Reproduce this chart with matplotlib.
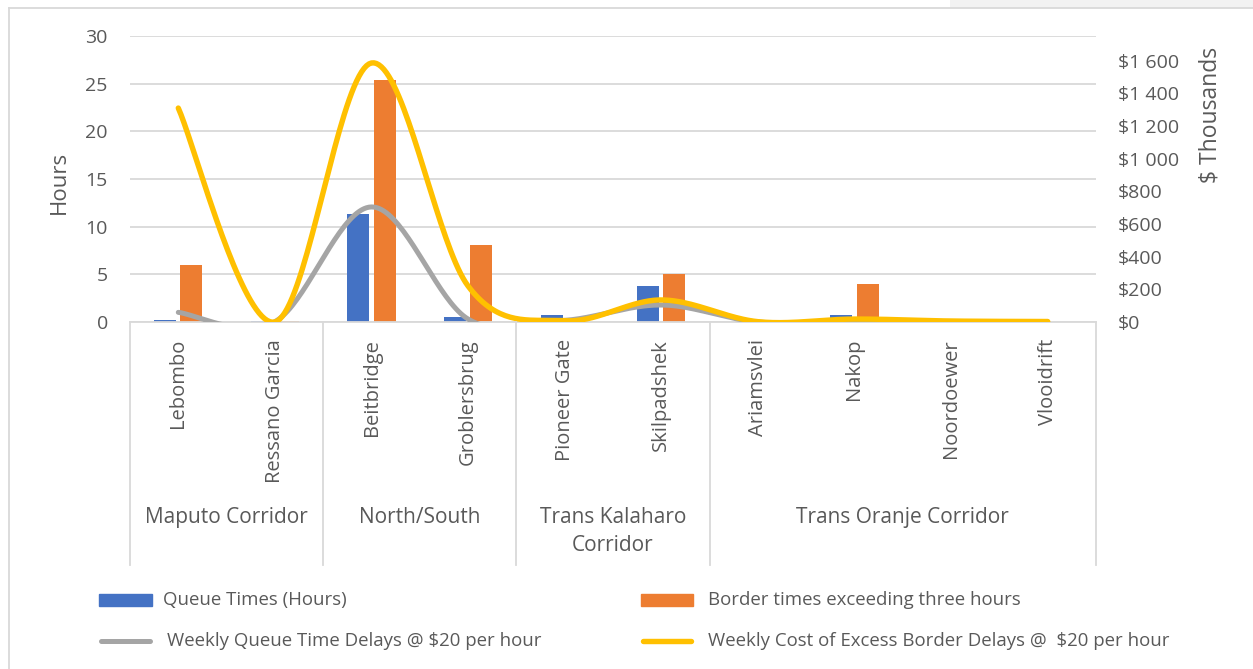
import numpy as np
import matplotlib
matplotlib.use("Agg")
import matplotlib.pyplot as plt
from matplotlib.patches import Rectangle
from matplotlib.lines import Line2D
import matplotlib.transforms as mtransforms

plt.rcParams['font.family'] = ['Open Sans', 'DejaVu Sans']

# border posts, grouped by corridor
posts = ["Lebombo", "Ressano Garcia", "Beitbridge", "Groblersbrug", "Pioneer Gate",
         "Skilpadshek", "Ariamsvlei", "Nakop", "Noordoewer", "Vlooidrift"]
corridors = ["Maputo Corridor", "North/South", "Trans Kalaharo\nCorridor", "Trans Oranje Corridor"]
corridor_sizes = [2, 2, 2, 4]

# hours (left axis)
queue_hours = [0.25, 0.15, 11.3, 0.55, 0.7, 3.8, 0.0, 0.7, 0.0, 0.0]
excess_hours = [6.0, 0.15, 25.4, 8.1, 0.0, 5.0, 0.0, 4.0, 0.0, 0.0]

# weekly cost, $ thousands (right axis)
queue_cost = [59, 2, 704, 18, 10, 104, 0, 6, 0, 0]
excess_cost = [1309, 0, 1585, 220, 8, 135, 2, 18, 6, 3]

BLUE = "#4472C4"
ORANGE = "#ED7D31"
GRAY = "#A5A5A5"
YELLOW = "#FFC000"
TXT = "#595959"
GRID = "#D9D9D9"

W, H = 1253, 669


def fx(px):
    return px / W


def fy(py):
    return 1 - py / H


def smooth(xs, ys, n=40):
    # cubic bezier through the points, spreadsheet-style smoothing
    pts = np.column_stack([xs, ys]).astype(float)
    P = np.vstack([pts[0], pts, pts[-1]])
    t = np.linspace(0, 1, n)[:, None]
    segs = []
    for i in range(1, len(P) - 2):
        p0, p1, p2, p3 = P[i - 1], P[i], P[i + 1], P[i + 2]
        c1 = p1 + (p2 - p0) / 6
        c2 = p2 - (p3 - p1) / 6
        seg = (1 - t) ** 3 * p1 + 3 * (1 - t) ** 2 * t * c1 + 3 * (1 - t) * t ** 2 * c2 + t ** 3 * p2
        segs.append(seg)
    out = np.vstack(segs)
    return out[:, 0], out[:, 1]


fig = plt.figure(figsize=(W / 100, H / 100), dpi=100)
ax = fig.add_axes([fx(130), fy(322), fx(1096) - fx(130), fy(36) - fy(322)])
ax2 = ax.twinx()

x = np.arange(len(posts))
bw = 0.228
ax.bar(x - 0.135, queue_hours, bw, color=BLUE, zorder=2)
ax.bar(x + 0.135, excess_hours, bw, color=ORANGE, zorder=2)

ax.set_xlim(-0.5, len(posts) - 0.5)
ax.set_ylim(0, 30)
ax.set_yticks(range(0, 31, 5))
ax.yaxis.grid(True, color=GRID, lw=1.3)
ax.set_axisbelow(True)
ax.set_xticks([])
for s in ["top", "left", "right"]:
    ax.spines[s].set_visible(False)
ax.spines["bottom"].set_color(GRID)
ax.spines["bottom"].set_linewidth(1.3)
ax.tick_params(axis="y", length=0, pad=16, labelsize=14, labelcolor=TXT)

sx, sy = smooth(x, queue_cost)
ax2.plot(sx, sy, color=GRAY, lw=3.6, solid_capstyle="round", zorder=3)
sx, sy = smooth(x, excess_cost)
ax2.plot(sx, sy, color=YELLOW, lw=3.9, solid_capstyle="round", zorder=4)
ax2.set_ylim(0, 1750)
ax2.set_yticks(range(0, 1601, 200))
ax2.set_yticklabels(["$0"] + ["$%d" % v if v < 1000 else "$%d %03d" % (v // 1000, v % 1000)
                              for v in range(200, 1601, 200)])
ax2.tick_params(axis="y", length=0, pad=16, labelsize=14, labelcolor=TXT)
for s in ax2.spines.values():
    s.set_visible(False)

# category axis: post names, corridor names and separators
trans = mtransforms.blended_transform_factory(ax.transData, fig.transFigure)
for i, name in enumerate(posts):
    ax.text(i, fy(339), name, transform=trans, rotation=90, ha="center", va="top",
            fontsize=14.5, color=TXT)

edges = np.concatenate([[0], np.cumsum(corridor_sizes)]) - 0.5
for e in edges:
    fig.add_artist(Line2D([e, e], [fy(322), fy(565)], transform=trans, color=GRID, lw=1.3))
for i, name in enumerate(corridors):
    mid = (edges[i] + edges[i + 1]) / 2
    ax.text(mid, fy(507), name, transform=trans, ha="center", va="top",
            fontsize=15, color=TXT, linespacing=1.45)

fig.text(fx(59), fy(182), "Hours", rotation=90, ha="center", va="center", fontsize=16, color=TXT)
fig.text(fx(1210), fy(115), "$ Thousands", rotation=90, ha="center", va="center", fontsize=16.5, color=TXT)

# legend
fig.add_artist(Rectangle((fx(99), fy(606)), fx(152) - fx(99), fy(594) - fy(606), color=BLUE))
fig.add_artist(Rectangle((fx(641), fy(606)), fx(693) - fx(641), fy(594) - fy(606), color=ORANGE))
fig.add_artist(Line2D([fx(101), fx(150)], [fy(641), fy(641)], color=GRAY, lw=3.6, solid_capstyle="round"))
fig.add_artist(Line2D([fx(643), fx(691)], [fy(641), fy(641)], color=YELLOW, lw=3.9, solid_capstyle="round"))
fig.text(fx(163), fy(600), "Queue Times (Hours)", va="center", fontsize=13.4, color=TXT)
fig.text(fx(708), fy(600), "Border times exceeding three hours", va="center", fontsize=13.4, color=TXT)
fig.text(fx(167), fy(641), "Weekly Queue Time Delays @ $20 per hour", va="center", fontsize=13.4, color=TXT)
fig.text(fx(708), fy(641), "Weekly Cost of Excess Border Delays @  $20 per hour", va="center",
         fontsize=13.4, color=TXT)

# chart frame
fig.add_artist(Rectangle((fx(950), fy(8)), 1 - fx(950), 1 - fy(8), color="#F2F2F2", lw=0))
fig.add_artist(Line2D([fx(9), fx(9)], [fy(8), 0], color=GRID, lw=1.3))
fig.add_artist(Line2D([fx(9), 1], [fy(8), fy(8)], color=GRID, lw=1.3))

fig.savefig("out.png", dpi=100)
